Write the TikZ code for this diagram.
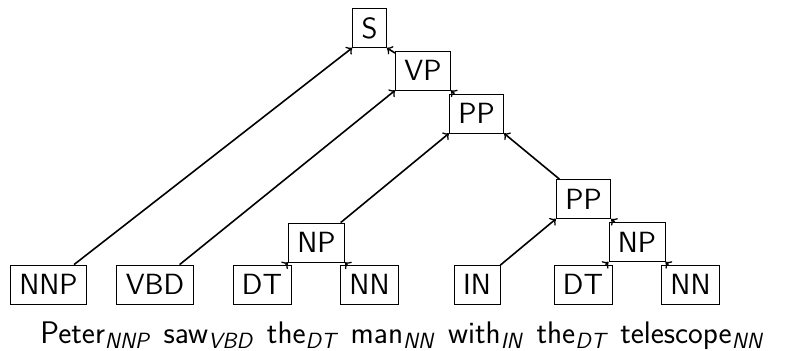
\documentclass[tikz,border=0pt]{standalone}
\usetikzlibrary{arrows}
% word with its part-of-speech tag set as a lowered italic subscript
\newcommand{\tagged}[2]{#1\raisebox{-2.6pt}{\fontsize{11}{12}\selectfont\itshape #2}}
\newcommand{\wgap}{\hspace{7.4pt}}
\begin{document}
\begin{tikzpicture}[x=0.5pt,y=-0.5pt,
  cat/.style={draw, line width=0.4pt, font=\sffamily\fontsize{14.6}{17}\selectfont,
    inner xsep=4.5pt, inner ysep=0pt, text height=10pt, text depth=0pt, minimum height=19.5pt},
  edge/.style={->, line width=0.8pt}]
\useasboundingbox (0,0) rectangle (796,350);
% constituents
\node[cat] (S)   at (369.5,28)  {S};
\node[cat] (VP)  at (423,70.5)  {VP};
\node[cat] (PP1) at (476.5,113.5) {PP};
\node[cat] (PP2) at (583.5,199) {PP};
\node[cat] (NP1) at (316.5,242.5) {NP};
\node[cat] (NP2) at (637,242) {NP};
% part-of-speech tags
\node[cat] (nnp) at (48.5,284.5) {NNP};
\node[cat] (vbd) at (155,284.5) {VBD};
\node[cat] (dt1) at (262,284.5) {DT};
\node[cat] (nn1) at (369.5,284.5) {NN};
\node[cat] (in)  at (477,284.5) {IN};
\node[cat] (dt2) at (583,284.5) {DT};
\node[cat] (nn2) at (690.5,284.5) {NN};
% edges from child to parent corner
\draw[edge] (nnp) -- (S.south west);
\draw[edge] (VP)  -- (S.south east);
\draw[edge] (vbd) -- (VP.south west);
\draw[edge] (PP1) -- (VP.south east);
\draw[edge] (NP1) -- (PP1.south west);
\draw[edge] (PP2) -- (PP1.south east);
\draw[edge] (dt1) -- (NP1.south west);
\draw[edge] (nn1) -- (NP1.south east);
\draw[edge] (in)  -- (PP2.south west);
\draw[edge] (NP2) -- (PP2.south east);
\draw[edge] (dt2) -- (NP2.south west);
\draw[edge] (nn2) -- (NP2.south east);
% tagged sentence
\node[anchor=base west, inner sep=0pt, font=\sffamily\fontsize{15.6}{17}\selectfont] (sent) at (40,343)
  {\tagged{Peter}{NNP}\wgap\tagged{saw}{VBD}\wgap\tagged{the}{DT}\wgap\tagged{man}{NN}\wgap\tagged{with}{IN}\wgap\tagged{the}{DT}\wgap\tagged{telescope}{NN}};
\end{tikzpicture}
\end{document}
